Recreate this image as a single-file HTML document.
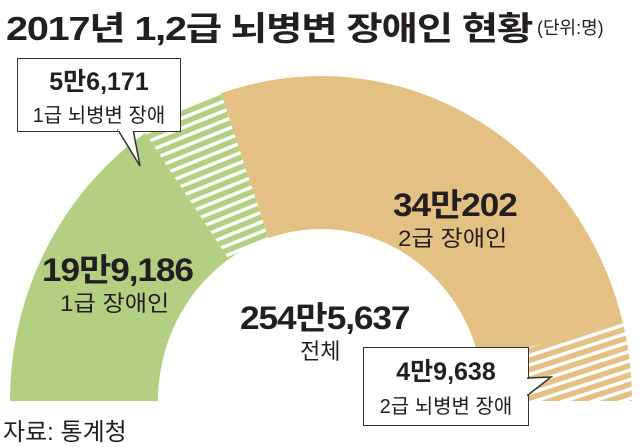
<!DOCTYPE html>
<html><head><meta charset="utf-8"><style>
html,body{margin:0;padding:0;background:#fff;}
body{width:640px;height:447px;overflow:hidden;position:relative;font-family:"Liberation Sans","Noto Sans CJK KR",sans-serif;color:#231f20;}
.t{position:absolute;white-space:nowrap;transform-origin:left top;}
.b{font-weight:bold;}
.box{position:absolute;border:1.5px solid #333;background:#fff;text-align:center;}
</style></head><body>
<div class="t b" style="left:6px;top:2px;font-size:33px;letter-spacing:-1px;transform:scaleX(1.2);">2017년 1,2급 뇌병변 장애인 현황</div>
<div class="t" style="left:537px;top:14px;font-size:18px;">(단위:명)</div>
<svg id="chart" width="640" height="447" style="position:absolute;left:0;top:0">
<defs>
<pattern id="pg" patternUnits="userSpaceOnUse" width="9" height="9" patternTransform="rotate(-22)"><rect width="9" height="9" fill="#b3cf82"/><rect y="5" width="9" height="3.5" fill="#fff"/></pattern>
<pattern id="pt" patternUnits="userSpaceOnUse" width="9" height="9" patternTransform="rotate(-18)"><rect width="9" height="9" fill="#e4c083"/><rect y="5" width="9" height="3.5" fill="#fff"/></pattern>
</defs>
<g id="arcs"></g>
</svg>
<div class="box" style="left:17px;top:58px;width:162px;height:72px;"><div class="b" style="font-size:25px;margin-top:3px">5만6,171</div><div style="font-size:20px;margin-top:1px">1급 뇌병변 장애</div></div>
<div class="box" style="left:363px;top:347px;width:164px;height:77px;"><div class="b" style="font-size:25px;margin-top:4px">4만9,638</div><div style="font-size:20px;margin-top:2px">2급 뇌병변 장애</div></div>
<svg width="640" height="447" style="position:absolute;left:0;top:0">
<polygon points="118,130 140,166 133,129" fill="#fff" stroke="#333" stroke-width="1.5"/>
<rect x="118" y="127" width="16" height="4" fill="#fff"/>
<polygon points="528,378 551,377 528,395" fill="#fff" stroke="#333" stroke-width="1.5"/>
<rect x="525" y="379" width="4" height="15" fill="#fff"/>
</svg>
<div class="t b" style="left:42px;top:245px;font-size:32px;letter-spacing:-1px;transform:scaleX(1.1)">19만9,186</div>
<div class="t" style="left:60px;top:286px;font-size:22px;transform:scaleX(1.1)">1급 장애인</div>
<div class="t b" style="left:393px;top:180px;font-size:32px;letter-spacing:-1px;transform:scaleX(1.1)">34만202</div>
<div class="t" style="left:398px;top:221px;font-size:22px;transform:scaleX(1.1)">2급 장애인</div>
<div class="t b" style="left:240px;top:293px;font-size:32px;letter-spacing:-1px;transform:scaleX(1.1)">254만5,637</div>
<div class="t" style="left:300px;top:334px;font-size:22px">전체</div>
<div class="t" style="left:3px;top:412px;font-size:24px">자료: 통계청</div>
<script>
const categories=["1급 장애인","1급 뇌병변 장애","2급 장애인","2급 뇌병변 장애"];
const values=[199186,56171,340202,49638];
const fills=["#b3cf82","url(#pg)","#e4c083","url(#pt)"];
const cx=321,cy=401,rxO=311,ryO=325,rxI=163,ryI=172;
const total=values.reduce((a,b)=>a+b,0);
function ang(v){return Math.PI*(1-v/total);}
function pt(a,rx,ry){return [cx+rx*Math.cos(a),cy-ry*Math.sin(a)];}
const g=document.getElementById('arcs');
let acc=0;
values.forEach((v,i)=>{
  const a0=ang(acc),a1=ang(acc+v);acc+=v;
  const n=40;let d="";
  for(let k=0;k<=n;k++){const a=a0+(a1-a0)*k/n;const p=pt(a,rxO,ryO);d+=(k?"L":"M")+p[0].toFixed(1)+","+p[1].toFixed(1);}
  for(let k=n;k>=0;k--){const a=a0+(a1-a0)*k/n;const p=pt(a,rxI,ryI);d+="L"+p[0].toFixed(1)+","+p[1].toFixed(1);}
  const el=document.createElementNS("http://www.w3.org/2000/svg","path");
  el.setAttribute("d",d+"Z");el.setAttribute("fill",fills[i]);
  
  
  g.appendChild(el);
});
</script>
</body></html>
